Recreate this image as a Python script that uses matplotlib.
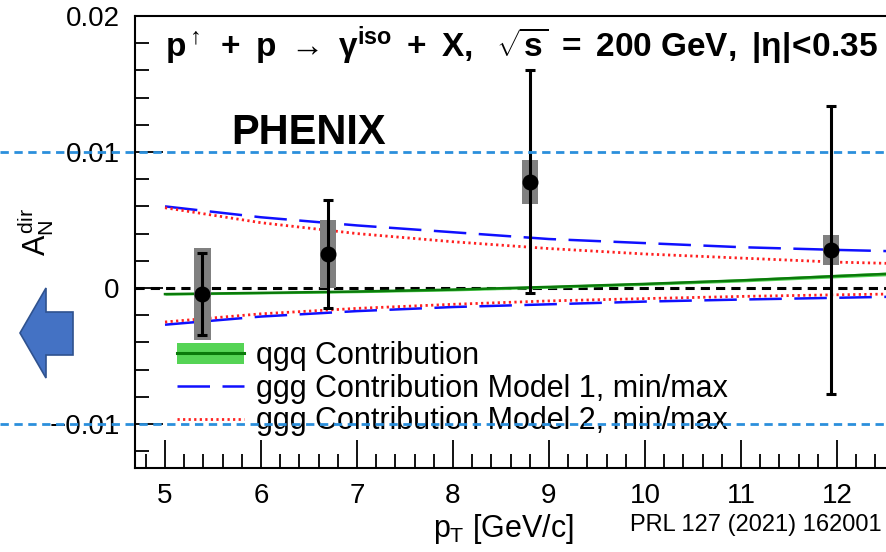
import matplotlib
matplotlib.use("Agg")
import matplotlib.pyplot as plt
import matplotlib.transforms as mtransforms
from matplotlib.lines import Line2D
from matplotlib.patches import Patch, Rectangle, Polygon
from matplotlib.ticker import MultipleLocator, FuncFormatter

plt.rcParams['font.family'] = ['Liberation Sans', 'DejaVu Sans']
plt.rcParams['mathtext.fontset'] = 'custom'
plt.rcParams['mathtext.rm'] = 'Liberation Sans'
plt.rcParams['mathtext.it'] = 'Liberation Sans'
plt.rcParams['mathtext.bf'] = 'Liberation Sans:bold'

# PHENIX data points (pT, A_N, stat, sys)
pt = [5.39, 6.70, 8.80, 11.94]
an = [-0.00044, 0.0025, 0.0078, 0.0028]
statErr = [0.0030, 0.0040, 0.0082, 0.0106]
sysErr = [0.0034, 0.0025, 0.0016, 0.0011]

# theory curves
ptCurve = [5, 6, 7, 8, 9, 10, 11, 12, 12.6]
qgq = [-0.00045, -0.00036, -0.00026, -0.00012, 0.00008, 0.0003, 0.00056, 0.00088, 0.00106]
qgqBand = [0.00008, 0.00008, 0.00009, 0.0001, 0.0001, 0.00011, 0.00012, 0.00013, 0.00014]
model1Max = [0.0060, 0.0052, 0.0046, 0.0041, 0.0036, 0.0033, 0.0030, 0.0028, 0.0027]
model1Min = [-0.0027, -0.0021, -0.0017, -0.0014, -0.0012, -0.0010, -0.00085, -0.00072, -0.00064]
model2Max = [0.0059, 0.0048, 0.0040, 0.0034, 0.0029, 0.0025, 0.0022, 0.0019, 0.0018]
model2Min = [-0.0025, -0.0019, -0.0015, -0.0012, -0.00095, -0.00078, -0.00062, -0.0005, -0.00044]

fig = plt.figure(figsize=(8.87, 5.52), dpi=100)
ax = fig.add_axes([135 / 887, 84.5 / 552, 757 / 887, 451.5 / 552])
ax.set_xlim(4.6875, 12.573)
ax.set_ylim(-0.0132, 0.02)

# zero line
ax.axhline(0, color='black', lw=2.2, ls=(0, (3, 2)), zorder=2)

# theory
ax.fill_between(ptCurve, [a - b for a, b in zip(qgq, qgqBand)], [a + b for a, b in zip(qgq, qgqBand)],
                color='#55d455', lw=0, zorder=3)
ax.plot(ptCurve, qgq, color='#0a7a0a', lw=1.8, zorder=3)
blueStyle = dict(color='#1010ff', lw=1.8, ls=(0, (13, 5)), zorder=3)
redStyle = dict(color='#ff2020', lw=2.0, ls=(0, (0.8, 1.2)), zorder=3)
ax.plot(ptCurve, model1Max, **blueStyle)
ax.plot(ptCurve, model1Min, **blueStyle)
ax.plot(ptCurve, model2Max, **redStyle)
ax.plot(ptCurve, model2Min, **redStyle)

# systematic boxes
for x, y, s in zip(pt, an, sysErr):
    ax.add_patch(Rectangle((x - 0.085, y - s), 0.17, 2 * s, facecolor='#808080', edgecolor='none', zorder=4))
ax.errorbar(pt, an, yerr=statErr, fmt='o', color='black', ms=10.5, lw=2.2, capsize=3.5, capthick=2.2, zorder=5)

# axes style
for side in ['top', 'left', 'bottom']:
    ax.spines[side].set_linewidth(1.5)
ax.spines['right'].set_visible(False)
ax.xaxis.set_major_locator(MultipleLocator(1))
ax.xaxis.set_minor_locator(MultipleLocator(0.2))
ax.yaxis.set_major_locator(MultipleLocator(0.01))
ax.yaxis.set_minor_locator(MultipleLocator(0.002))
ax.yaxis.set_major_formatter(FuncFormatter(lambda v, p: '0' if abs(v) < 1e-9 else ('%g' % v).replace('-', '\u2212')))
ax.tick_params(which='both', direction='in', top=False, right=False, width=1.3)
ax.tick_params(which='major', length=20, labelsize=20)
ax.tick_params(which='minor', length=10)
ax.tick_params(axis='x', which='major', pad=11)
ax.tick_params(axis='y', which='major', pad=11)

ax.text(5.0, 0.0178, r'$\mathbf{p^{\uparrow}\ +\ p\ \rightarrow\ \gamma^{iso}\ +\ X,\ \ \sqrt{s}\ =\ 200\ GeV,\ |\eta|\!<\!0.35}$',
        fontsize=24, va='center', ha='left')
ax.text(5.69, 0.0114, 'PHENIX', fontsize=30, fontweight='bold', va='center', ha='left')

fig.text(36 / 887, 1 - 232 / 552, r'$A_N^{dir}$', rotation=90, fontsize=22, ha='center', va='center')
fig.text(433 / 887, 1 - 529 / 552, r'$p_T$ [GeV/c]', fontsize=22, ha='left', va='center')
fig.text(630 / 887, 1 - 525 / 552, 'PRL 127 (2021) 162001', fontsize=17, ha='left', va='center')

# legend
handles = [
    (Patch(facecolor='#55d455', edgecolor='none'), Line2D([], [], color='#0a7a0a', lw=2.2)),
    Line2D([], [], **blueStyle),
    Line2D([], [], **redStyle),
]
labels = ['qgq Contribution', 'ggg Contribution Model 1, min/max', 'ggg Contribution Model 2, min/max']
ax.legend(handles, labels, loc='upper left', bbox_to_anchor=(42 / 757, 1 - 325 / 451.5), frameon=False,
          fontsize=22, handlelength=2.2, handleheight=0.7, handletextpad=0.4, labelspacing=0.09,
          borderpad=0, borderaxespad=0)

# annotation overlay: dashed blue lines and arrow
trans = mtransforms.blended_transform_factory(fig.transFigure, ax.transData)
for yv in [0.01, -0.01]:
    fig.add_artist(Line2D([0, 1], [yv, yv], transform=trans, color='#2b8fdc', lw=2, ls=(0, (3, 2)), zorder=10))

arrowPts = [(20, 333), (46, 288), (46, 312), (73, 312), (73, 355), (46, 355), (46, 378)]
fig.add_artist(Polygon([(px / 887, 1 - py / 552) for px, py in arrowPts], closed=True,
                       transform=fig.transFigure, facecolor='#4472C4', edgecolor='#2F528F', lw=1.2))

fig.savefig('out.png', dpi=100)
